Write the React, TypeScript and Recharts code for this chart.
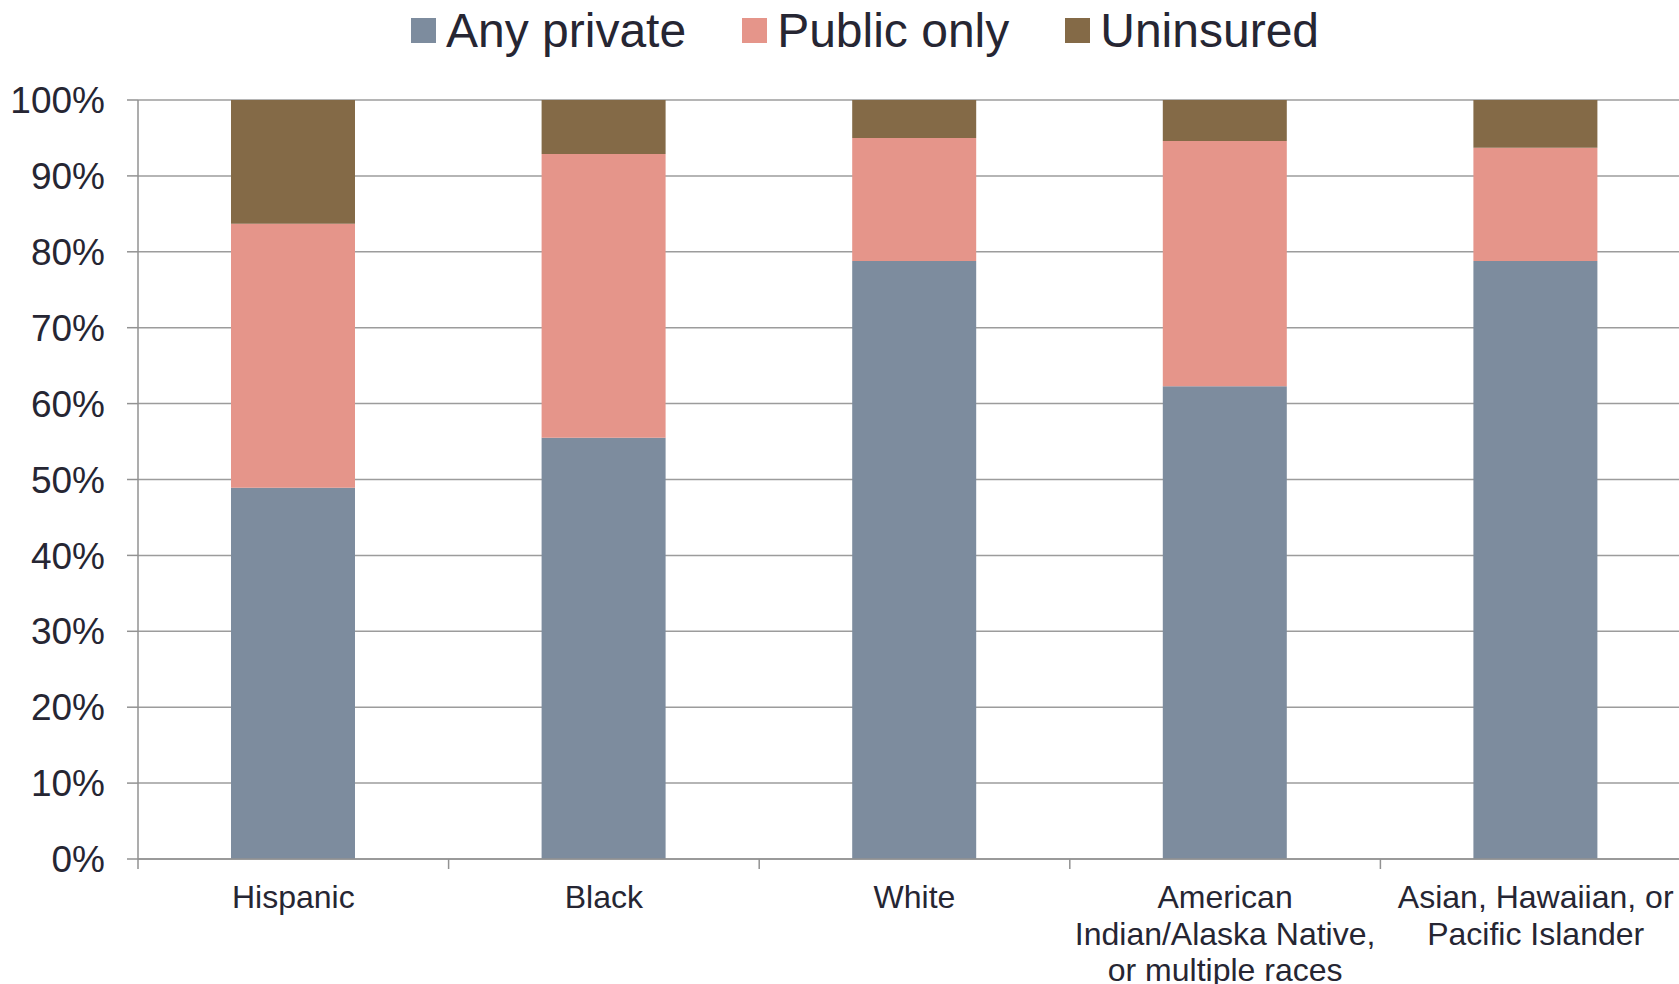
import React from 'react';
import { BarChart, Bar, XAxis, YAxis, CartesianGrid } from 'recharts';

const groups = [
  'Hispanic',
  'Black',
  'White',
  'American\nIndian/Alaska Native,\nor multiple races',
  'Asian, Hawaiian, or\nPacific Islander',
];
const anyPrivate = [48.9, 55.5, 78.8, 62.3, 78.8];
const publicOnly = [34.8, 37.4, 16.2, 32.3, 14.9];
const uninsured = [16.3, 7.1, 5.0, 5.4, 6.3];
const yTicks = [0, 10, 20, 30, 40, 50, 60, 70, 80, 90, 100];

const series = [
  { key: 'private', name: 'Any private', color: '#7d8c9e' },
  { key: 'public', name: 'Public only', color: '#e5958a' },
  { key: 'uninsured', name: 'Uninsured', color: '#846a47' },
];

const data = groups.map((g, i) => ({
  group: g,
  private: anyPrivate[i],
  public: publicOnly[i],
  uninsured: uninsured[i],
}));

const TEXT = '#262633';
const AXIS = '#929292';
const FONT = '"Liberation Sans", Arial, sans-serif';

const CHART_W = 1691;
const CHART_H = 984;
const Y_W = 138;
const BAND = (CHART_W - Y_W) / groups.length;

// category label plus an Excel-style tick at the left edge of each band
function GroupTick(props: any) {
  const { x, y, payload } = props;
  const lines = String(payload.value).split('\n');
  return (
    <g>
      <line x1={x - BAND / 2} x2={x - BAND / 2} y1={y} y2={y + 10} stroke={AXIS} strokeWidth={1.5} />
      <text x={x} y={y + 49} textAnchor="middle" fill={TEXT} fontSize={32} fontFamily={FONT}>
        {lines.map((l, i) => (
          <tspan key={i} x={x} dy={i === 0 ? 0 : 36.5}>{l}</tspan>
        ))}
      </text>
    </g>
  );
}

export default function App() {
  return (
    <div style={{ position: 'absolute', left: 0, top: 0, width: 1679, height: 984, overflow: 'hidden', background: '#fff' }}>
      {/* legend */}
      <div style={{ position: 'absolute', left: 411, top: 3, display: 'flex', alignItems: 'center', gap: 56, fontFamily: FONT, fontSize: 48, color: TEXT, whiteSpace: 'nowrap' }}>
        {series.map(s => (
          <div key={s.key} style={{ display: 'flex', alignItems: 'center' }}>
            <span style={{ width: 25, height: 25, background: s.color, marginRight: 10, display: 'inline-block' }} />
            <span>{s.name}</span>
          </div>
        ))}
      </div>
      <BarChart width={CHART_W} height={CHART_H} data={data} margin={{ top: 100, right: 0, left: 0, bottom: 0 }}>
        <CartesianGrid horizontal vertical={false} stroke="#9c9c9c" strokeWidth={1.5} />
        <XAxis
          dataKey="group"
          interval={0}
          height={125}
          tickSize={0}
          tickMargin={0}
          tick={<GroupTick />}
          axisLine={{ stroke: AXIS, strokeWidth: 1.5 }}
          tickLine={false}
        />
        <YAxis
          width={Y_W}
          domain={[0, 100]}
          ticks={yTicks}
          interval={0}
          tickFormatter={(v) => `${v}%`}
          tickSize={11}
          tickMargin={22}
          tick={{ fontSize: 37, fill: TEXT, fontFamily: FONT }}
          axisLine={{ stroke: AXIS, strokeWidth: 1.5 }}
          tickLine={{ stroke: AXIS, strokeWidth: 1.5 }}
        />
        {series.map(s => (
          <Bar key={s.key} dataKey={s.key} name={s.name} stackId="a" fill={s.color} barSize={124} isAnimationActive={false} />
        ))}
      </BarChart>
    </div>
  );
}
